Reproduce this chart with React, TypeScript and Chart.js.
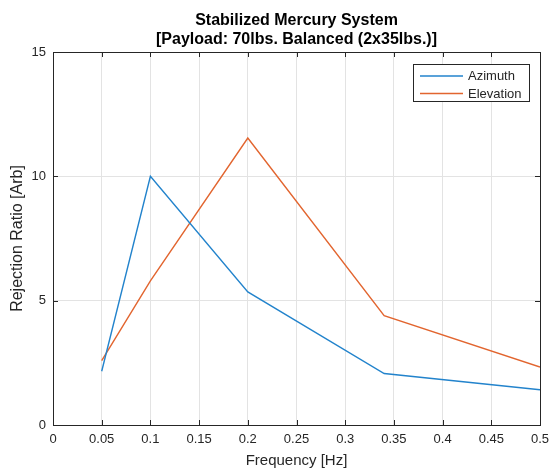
import React, { useEffect, useRef } from 'react';
import { Chart, registerables } from 'chart.js';

Chart.register(...registerables);

const frequency = [0.05, 0.1, 0.2, 0.34, 0.5];
const azimuth = [2.16, 10.0, 5.35, 2.07, 1.42];
const elevation = [2.59, 5.8, 11.54, 4.4, 2.33];
const xTickValues = [0, 0.05, 0.1, 0.15, 0.2, 0.25, 0.3, 0.35, 0.4, 0.45, 0.5];
const yTickValues = [0, 5, 10, 15];
const seriesNames = ['Azimuth', 'Elevation'];
const seriesColors = ['#2283cc', '#e2652f'];
const titleLines = ['Stabilized Mercury System', '[Payload: 70lbs. Balanced (2x35lbs.)]'];
const xTitle = 'Frequency [Hz]';
const yTitle = 'Rejection Ratio [Arb]';

const FONT = "'Liberation Sans', Arial, Helvetica, sans-serif";
const AXIS = '#262626';

const matlabFrame = {
  id: 'matlabFrame',
  afterDraw(chart: any) {
    const ctx = chart.ctx;
    const a = chart.chartArea;
    const xs = chart.scales.x;
    const ys = chart.scales.y;
    ctx.save();
    ctx.strokeStyle = AXIS;
    ctx.lineWidth = 1;
    ctx.strokeRect(Math.round(a.left) + 0.5, Math.round(a.top) + 0.5, Math.round(a.right - a.left), Math.round(a.bottom - a.top));
    const tl = 5;
    ctx.beginPath();
    xTickValues.forEach((v) => {
      const px = Math.round(xs.getPixelForValue(v)) + 0.5;
      ctx.moveTo(px, a.bottom);
      ctx.lineTo(px, a.bottom - tl);
      ctx.moveTo(px, a.top);
      ctx.lineTo(px, a.top + tl);
    });
    yTickValues.forEach((v) => {
      const py = Math.round(ys.getPixelForValue(v)) + 0.5;
      ctx.moveTo(a.left, py);
      ctx.lineTo(a.left + tl, py);
      ctx.moveTo(a.right, py);
      ctx.lineTo(a.right - tl, py);
    });
    ctx.stroke();
    ctx.fillStyle = '#000000';
    ctx.font = `bold 16px ${FONT}`;
    ctx.textAlign = 'center';
    ctx.textBaseline = 'alphabetic';
    const cx = (a.left + a.right) / 2;
    ctx.fillText(titleLines[0], cx, 24.5);
    ctx.fillText(titleLines[1], cx, 43.5);
    const lx = 413.5, ly = 64.5, lw = 116, lh = 37;
    ctx.fillStyle = '#ffffff';
    ctx.fillRect(lx, ly, lw, lh);
    ctx.strokeStyle = AXIS;
    ctx.lineWidth = 1;
    ctx.strokeRect(lx, ly, lw, lh);
    ctx.font = `13px ${FONT}`;
    ctx.textAlign = 'left';
    ctx.textBaseline = 'middle';
    chart.data.datasets.forEach((ds: any, i: number) => {
      const y = 76 + i * 17.5;
      ctx.strokeStyle = ds.borderColor;
      ctx.lineWidth = 1.5;
      ctx.beginPath();
      ctx.moveTo(420, y);
      ctx.lineTo(463, y);
      ctx.stroke();
      ctx.fillStyle = AXIS;
      ctx.fillText(ds.label, 468, y + 0.5);
    });
    ctx.restore();
  },
};

export default function App() {
  const ref = useRef<HTMLCanvasElement | null>(null);
  useEffect(() => {
    if (!ref.current) return;
    const chart = new Chart(ref.current, {
      type: 'line',
      data: {
        datasets: [azimuth, elevation].map((vals, i) => ({
          label: seriesNames[i],
          data: frequency.map((f, j) => ({ x: f, y: vals[j] })),
          borderColor: seriesColors[i],
          backgroundColor: seriesColors[i],
          borderWidth: 1.4,
          pointRadius: 0,
          tension: 0,
          fill: false,
        })),
      },
      options: {
        animation: false,
        responsive: false,
        events: [],
        layout: { padding: { left: 0, right: 11, top: 52, bottom: 0 } },
        plugins: {
          legend: { display: false },
          title: { display: false },
          tooltip: { enabled: false },
        },
        scales: {
          x: {
            type: 'linear',
            min: 0,
            max: 0.5,
            afterFit: (s: any) => { s.height = 46; s.paddingRight = 0; s.paddingLeft = 0; },
            afterBuildTicks: (s: any) => { s.ticks = xTickValues.map((v) => ({ value: v })); },
            ticks: {
              color: AXIS,
              font: { family: FONT, size: 13 },
              padding: 7,
              maxRotation: 0,
              autoSkip: false,
              callback: (v: any) => String(Number(v)),
            },
            grid: { color: '#e3e3e3', drawTicks: false, lineWidth: 1 },
            border: { display: false },
            title: {
              display: true,
              text: xTitle,
              color: AXIS,
              font: { family: FONT, size: 15 },
              padding: { top: 0, bottom: 1 },
            },
          },
          y: {
            type: 'linear',
            min: 0,
            max: 15,
            afterFit: (s: any) => { s.width = 53; s.paddingTop = 0; s.paddingBottom = 0; },
            afterBuildTicks: (s: any) => { s.ticks = yTickValues.map((v) => ({ value: v })); },
            ticks: {
              color: AXIS,
              font: { family: FONT, size: 13 },
              padding: 7,
              autoSkip: false,
              callback: (v: any) => String(Number(v)),
            },
            grid: { color: '#e3e3e3', drawTicks: false, lineWidth: 1 },
            border: { display: false },
            title: {
              display: true,
              text: yTitle,
              color: AXIS,
              font: { family: FONT, size: 16 },
              padding: { top: 8, bottom: 0 },
            },
          },
        },
      },
      plugins: [matlabFrame],
    } as any);
    return () => chart.destroy();
  }, []);
  return (
    <div style={{ position: 'absolute', left: 0, top: 0, width: 551, height: 471, background: '#ffffff' }}>
      <canvas ref={ref} width={551} height={471} style={{ display: 'block' }} />
    </div>
  );
}
